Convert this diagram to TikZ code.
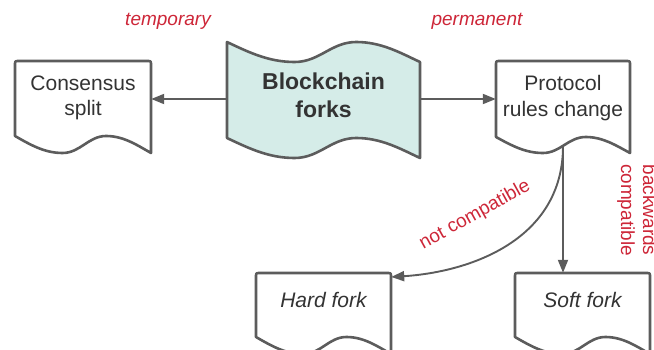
\documentclass[tikz,border=0pt]{standalone}
\usepackage{fontspec}
\setmainfont{Liberation Sans}
\usetikzlibrary{arrows.meta}
\definecolor{edge}{HTML}{5C5C5C}
\definecolor{txt}{HTML}{333333}
\definecolor{lblred}{RGB}{205,38,56}
\definecolor{tapefill}{HTML}{D5ECE8}
\tikzset{
  shapeline/.style={draw=edge, line width=2.6pt, line join=round, fill=white},
  boxtext/.style={text=txt, align=center, inner sep=0pt, font=\fontsize{21}{25.5}\selectfont},
  arr/.style={draw=edge, line width=1.9pt, -{Triangle[length=13pt,width=10pt]}},
  redlbl/.style={text=lblred, align=center, inner sep=0pt, font=\fontsize{19}{22}\selectfont},
}
\newcommand\mydoc[6][]{%
  \pgfmathsetmacro\dw{#4-#2}%
  \draw[shapeline,#1] (#2,#5) -- (#2,#3+4) .. controls (#2,#3) .. (#2+4,#3) -- (#4-4,#3)
    .. controls (#4,#3) .. (#4,#3+4) -- (#4,#5+#6)
    .. controls (#4-0.1*\dw,#5+0.55*#6) and (#4-0.2*\dw,#5) .. (#2+0.67*\dw,#5)
    .. controls (#2+0.54*\dw,#5) and (#2+0.48*\dw,#5+#6) .. (#2+0.35*\dw,#5+#6)
    .. controls (#2+0.22*\dw,#5+#6) and (#2+0.12*\dw,#5+0.55*#6) .. (#2,#5) -- cycle;}
\begin{document}
\begin{tikzpicture}[x=1pt,y=-1pt]
\useasboundingbox (0,0) rectangle (654,350);
% shapes
\mydoc{15}{61}{151}{136}{17}
\mydoc{496}{61}{630}{137}{16}
\mydoc{256}{273}{391}{337}{17}
\mydoc{515}{273}{650}{337}{17}
% tape
\pgfmathsetmacro\tw{193}
\draw[shapeline, fill=tapefill] (227,42)
  .. controls (227+0.12*\tw,42+0.55*20) and (227+0.22*\tw,62) .. (227+0.35*\tw,62)
  .. controls (227+0.48*\tw,62) and (227+0.54*\tw,42) .. (227+0.67*\tw,42)
  .. controls (227+0.8*\tw,42) and (227+0.9*\tw,42+0.55*20) .. (420,62)
  -- (420,158)
  .. controls (227+0.9*\tw,138+0.55*20) and (227+0.8*\tw,138) .. (227+0.67*\tw,138)
  .. controls (227+0.54*\tw,138) and (227+0.48*\tw,158) .. (227+0.35*\tw,158)
  .. controls (227+0.22*\tw,158) and (227+0.12*\tw,138+0.55*20) .. (227,138) -- cycle;
% nodes
\node[boxtext, minimum width=136pt] (cs) at (83,98) {Consensus\\split};
\node[boxtext, minimum width=193pt, font=\fontsize{23}{28}\selectfont\bfseries] (bf) at (323.5,95) {Blockchain\\forks};
\node[boxtext, minimum width=134pt] (pr) at (563,98) {Protocol\\rules change};
\node[boxtext, minimum width=135pt, minimum height=54pt, font=\fontsize{21}{25.5}\selectfont\itshape] (hf) at (323.5,300) {Hard fork};
\node[boxtext, minimum width=135pt, minimum height=54pt, font=\fontsize{21}{25.5}\selectfont\itshape] (sf) at (582.5,300) {Soft fork};
\coordinate (prb) at (563,146);
% connectors
\draw[arr] ([yshift=-4pt]bf.west) -- ([yshift=-4pt]bf.west -| cs.east);
\draw[arr] ([yshift=-4pt]bf.east) -- ([yshift=-4pt]bf.east -| pr.west);
\draw[arr] (prb) -- (prb |- sf.north);
\draw[arr] (prb) .. controls (563,240) and (470,272) .. ([yshift=23pt]hf.east);
% labels
\node[redlbl, font=\fontsize{19}{22}\selectfont\itshape] (ltemp) at (168,21) {temporary};
\node[redlbl, font=\fontsize{19}{22}\selectfont\itshape] (lperm) at (477,21) {permanent};
\node[redlbl, rotate=29] (lnot) at (475,215) {not compatible};
\node[redlbl, rotate=-90] (lback) at (637,210) {backwards\\compatible};
\end{tikzpicture}
\end{document}
